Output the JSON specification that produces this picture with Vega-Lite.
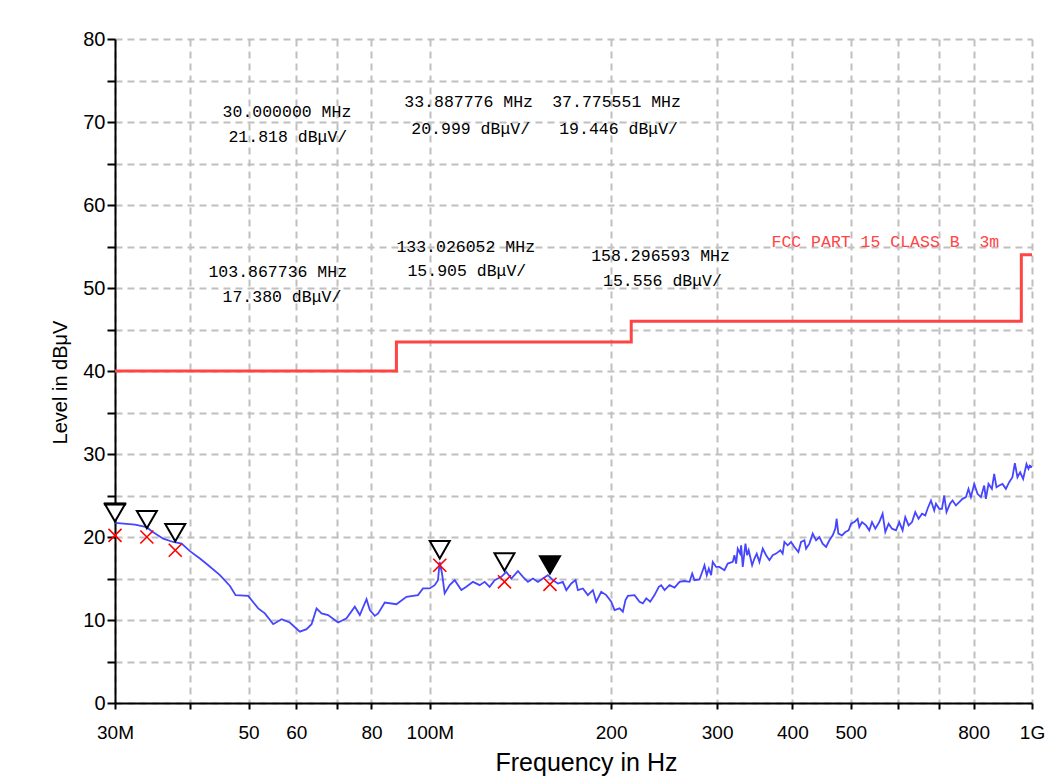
{
  "$schema": "https://vega.github.io/schema/vega-lite/v6.json",
  "width": 917,
  "height": 664,
  "autosize": {"type": "none"},
  "padding": {"left": 115, "top": 39, "right": 29, "bottom": 79},
  "background": "white",
  "config": {"view": {"stroke": null}, "font": "Liberation Sans"},
  "datasets": {
    "limit": [
      {"f": 30, "v": 40},
      {"f": 88, "v": 43.5},
      {"f": 216, "v": 46},
      {"f": 960, "v": 54},
      {"f": 1000, "v": 54}
    ],
    "trace": [
      {"f": 30, "v": 21.7}, {"f": 32.38, "v": 21.5}, {"f": 33.86, "v": 21.2}, {"f": 34.52, "v": 20.7},
      {"f": 36.08, "v": 19.8}, {"f": 37.48, "v": 19.4}, {"f": 38.71, "v": 19.2}, {"f": 39.95, "v": 18.3},
      {"f": 41.51, "v": 17.4}, {"f": 42.85, "v": 16.6}, {"f": 44.81, "v": 15.4}, {"f": 46.56, "v": 14.1},
      {"f": 47.58, "v": 13.0}, {"f": 49.92, "v": 12.9}, {"f": 51.87, "v": 11.4}, {"f": 53.21, "v": 10.8},
      {"f": 54.93, "v": 9.5}, {"f": 56.73, "v": 10.1}, {"f": 58.53, "v": 9.7}, {"f": 60.83, "v": 8.6},
      {"f": 62.41, "v": 8.9}, {"f": 63.61, "v": 9.5}, {"f": 64.84, "v": 11.4}, {"f": 66.09, "v": 10.8},
      {"f": 67.77, "v": 10.6}, {"f": 70.41, "v": 9.7}, {"f": 72.71, "v": 10.2}, {"f": 75.06, "v": 11.6},
      {"f": 76.51, "v": 10.6}, {"f": 78.49, "v": 12.5}, {"f": 79.49, "v": 11.2}, {"f": 81.02, "v": 10.5},
      {"f": 82.06, "v": 10.8}, {"f": 84.16, "v": 12.1}, {"f": 88.01, "v": 11.9}, {"f": 91.44, "v": 12.8},
      {"f": 95.57, "v": 13.0}, {"f": 97.41, "v": 13.8}, {"f": 99.94, "v": 13.8}, {"f": 101.86, "v": 14.2},
      {"f": 103.16, "v": 14.8}, {"f": 103.83, "v": 17.0}, {"f": 104.77, "v": 15.6}, {"f": 105.83, "v": 13.2},
      {"f": 107.88, "v": 14.2}, {"f": 109.96, "v": 14.8}, {"f": 112.81, "v": 13.6}, {"f": 114.98, "v": 14.0},
      {"f": 117.93, "v": 14.6}, {"f": 120.98, "v": 14.2}, {"f": 123.31, "v": 14.6}, {"f": 125.69, "v": 14.0},
      {"f": 128.12, "v": 14.8}, {"f": 131.43, "v": 15.2}, {"f": 133.96, "v": 15.8}, {"f": 136.55, "v": 15.0},
      {"f": 140.05, "v": 15.9}, {"f": 142.76, "v": 15.2}, {"f": 145.51, "v": 14.6}, {"f": 148.32, "v": 15.0},
      {"f": 151.16, "v": 14.6}, {"f": 154.07, "v": 15.0}, {"f": 157.04, "v": 15.4}, {"f": 160.07, "v": 14.8},
      {"f": 163.16, "v": 14.4}, {"f": 166.31, "v": 14.6}, {"f": 168.51, "v": 13.6}, {"f": 171.76, "v": 14.4},
      {"f": 174.6, "v": 14.8}, {"f": 176.13, "v": 13.6}, {"f": 179.53, "v": 13.8}, {"f": 182.99, "v": 13.0},
      {"f": 186.53, "v": 13.6}, {"f": 188.95, "v": 12.2}, {"f": 192.59, "v": 13.4}, {"f": 196.31, "v": 13.0},
      {"f": 200.1, "v": 12.2}, {"f": 202.65, "v": 11.2}, {"f": 206.56, "v": 11.4}, {"f": 209.19, "v": 11.0},
      {"f": 211.3, "v": 12.4}, {"f": 213.23, "v": 12.9}, {"f": 218.75, "v": 13.0}, {"f": 222.97, "v": 12.2},
      {"f": 225.8, "v": 12.0}, {"f": 228.74, "v": 12.6}, {"f": 232.25, "v": 12.2}, {"f": 236.11, "v": 13.0},
      {"f": 240.02, "v": 14.0}, {"f": 242.24, "v": 14.2}, {"f": 245.33, "v": 13.6}, {"f": 250.07, "v": 14.2},
      {"f": 254.9, "v": 13.9}, {"f": 259.82, "v": 14.6}, {"f": 264.83, "v": 14.7}, {"f": 269.95, "v": 14.6},
      {"f": 272.7, "v": 15.6}, {"f": 275.1, "v": 14.8}, {"f": 280.41, "v": 14.9}, {"f": 283.98, "v": 16.0},
      {"f": 285.82, "v": 16.6}, {"f": 288.33, "v": 15.4}, {"f": 290.59, "v": 16.2}, {"f": 293.17, "v": 15.4},
      {"f": 295.01, "v": 17.0}, {"f": 298.83, "v": 16.4}, {"f": 302.64, "v": 16.4}, {"f": 308.48, "v": 16.0},
      {"f": 312.41, "v": 16.8}, {"f": 318.44, "v": 17.0}, {"f": 320.52, "v": 17.8}, {"f": 322.59, "v": 16.8},
      {"f": 324.6, "v": 18.6}, {"f": 327.6, "v": 18.0}, {"f": 328.81, "v": 19.0}, {"f": 330.86, "v": 16.4},
      {"f": 334.29, "v": 19.2}, {"f": 336.45, "v": 17.8}, {"f": 338.47, "v": 18.4}, {"f": 342.95, "v": 16.6},
      {"f": 345.97, "v": 17.4}, {"f": 349.0, "v": 18.0}, {"f": 352.64, "v": 17.0}, {"f": 357.13, "v": 18.6},
      {"f": 361.76, "v": 17.8}, {"f": 366.37, "v": 17.2}, {"f": 371.05, "v": 17.8}, {"f": 375.86, "v": 18.0},
      {"f": 382.05, "v": 18.4}, {"f": 385.41, "v": 18.0}, {"f": 387.99, "v": 19.4}, {"f": 392.85, "v": 19.0},
      {"f": 398.03, "v": 19.4}, {"f": 403.1, "v": 18.8}, {"f": 409.27, "v": 18.2}, {"f": 413.53, "v": 19.4},
      {"f": 418.8, "v": 19.6}, {"f": 421.51, "v": 18.6}, {"f": 426.88, "v": 19.2}, {"f": 432.32, "v": 20.4},
      {"f": 437.93, "v": 19.6}, {"f": 443.51, "v": 20.0}, {"f": 449.06, "v": 19.2}, {"f": 454.99, "v": 18.8},
      {"f": 460.79, "v": 19.6}, {"f": 466.66, "v": 20.2}, {"f": 471.41, "v": 21.0}, {"f": 473.81, "v": 22.2},
      {"f": 476.87, "v": 20.4}, {"f": 483.62, "v": 20.2}, {"f": 489.78, "v": 20.6}, {"f": 496.02, "v": 20.8},
      {"f": 500.62, "v": 21.6}, {"f": 506.88, "v": 21.8}, {"f": 513.34, "v": 22.2}, {"f": 516.66, "v": 21.2},
      {"f": 522.04, "v": 21.8}, {"f": 530.04, "v": 21.4}, {"f": 536.8, "v": 20.8}, {"f": 542.39, "v": 21.8},
      {"f": 549.3, "v": 21.0}, {"f": 557.72, "v": 21.8}, {"f": 564.83, "v": 22.8}, {"f": 570.71, "v": 20.6},
      {"f": 577.98, "v": 21.6}, {"f": 585.48, "v": 21.0}, {"f": 594.46, "v": 20.8}, {"f": 602.03, "v": 21.8},
      {"f": 609.71, "v": 20.8}, {"f": 615.92, "v": 22.4}, {"f": 623.77, "v": 21.4}, {"f": 632.01, "v": 21.8},
      {"f": 639.91, "v": 23.0}, {"f": 648.07, "v": 22.2}, {"f": 656.64, "v": 22.8}, {"f": 664.85, "v": 22.6},
      {"f": 670.7, "v": 23.4}, {"f": 679.55, "v": 24.4}, {"f": 688.05, "v": 23.2}, {"f": 692.66, "v": 24.0},
      {"f": 701.33, "v": 23.4}, {"f": 708.64, "v": 23.4}, {"f": 714.86, "v": 25.0}, {"f": 721.15, "v": 23.0},
      {"f": 730.67, "v": 24.0}, {"f": 737.95, "v": 24.4}, {"f": 747.52, "v": 23.8}, {"f": 757.04, "v": 24.2},
      {"f": 766.69, "v": 24.6}, {"f": 776.64, "v": 24.8}, {"f": 784.37, "v": 25.8}, {"f": 791.64, "v": 24.8},
      {"f": 801.72, "v": 26.4}, {"f": 811.94, "v": 25.2}, {"f": 822.47, "v": 24.8}, {"f": 832.95, "v": 26.2},
      {"f": 838.34, "v": 24.6}, {"f": 846.69, "v": 26.4}, {"f": 857.86, "v": 25.8}, {"f": 865.4, "v": 27.6},
      {"f": 873.01, "v": 26.0}, {"f": 882.11, "v": 26.2}, {"f": 893.35, "v": 26.4}, {"f": 904.94, "v": 25.8},
      {"f": 916.48, "v": 26.6}, {"f": 927.93, "v": 27.2}, {"f": 936.53, "v": 28.9}, {"f": 945.85, "v": 27.2},
      {"f": 955.71, "v": 27.8}, {"f": 966.77, "v": 27.0}, {"f": 979.1, "v": 28.8}, {"f": 986.56, "v": 28.2},
      {"f": 991.8, "v": 28.6}, {"f": 1000, "v": 28.4}
    ],
    "peaks": [
      {"f": 30.0, "v": 21.818, "kind": "open", "active": true},
      {"f": 33.887776, "v": 20.999, "kind": "open", "active": false},
      {"f": 37.775551, "v": 19.446, "kind": "open", "active": false},
      {"f": 103.867736, "v": 17.38, "kind": "open", "active": false},
      {"f": 133.026052, "v": 15.905, "kind": "open", "active": false},
      {"f": 158.296593, "v": 15.556, "kind": "filled", "active": false}
    ],
    "qp": [
      {"f": 30.0, "v": 20.2},
      {"f": 33.887776, "v": 20.0},
      {"f": 37.775551, "v": 18.4},
      {"f": 103.867736, "v": 16.6},
      {"f": 133.026052, "v": 14.6},
      {"f": 158.296593, "v": 14.3}
    ],
    "notes": [
      {"f": 57.9, "v": 71.2, "t": "30.000000 MHz"},
      {"f": 58.1, "v": 68.2, "t": "21.818 dBμV/"},
      {"f": 116.0, "v": 72.4, "t": "33.887776 MHz"},
      {"f": 116.9, "v": 69.2, "t": "20.999 dBμV/"},
      {"f": 204.2, "v": 72.4, "t": "37.775551 MHz"},
      {"f": 205.8, "v": 69.2, "t": "19.446 dBμV/"},
      {"f": 55.9, "v": 51.9, "t": "103.867736 MHz"},
      {"f": 56.8, "v": 48.9, "t": "17.380 dBμV/"},
      {"f": 114.7, "v": 54.9, "t": "133.026052 MHz"},
      {"f": 115.2, "v": 52.0, "t": "15.905 dBμV/"},
      {"f": 241.6, "v": 53.9, "t": "158.296593 MHz"},
      {"f": 243.4, "v": 50.9, "t": "15.556 dBμV/"}
    ],
    "limitlabel": [
      {"f": 369.3, "v": 55.5, "t": "FCC PART 15 CLASS B \u00a03m"}
    ]
  },
  "encoding": {
    "x": {
      "field": "f",
      "type": "quantitative",
      "scale": {"type": "log", "domain": [30, 1000], "nice": false, "zero": false},
      "axis": {
        "title": "Frequency in Hz",
        "values": [30, 40, 50, 60, 70, 80, 100, 200, 300, 400, 500, 600, 700, 800, 1000],
        "labelExpr": "datum.value == 30 ? '30M' : datum.value == 100 ? '100M' : datum.value == 1000 ? '1G' : (datum.value == 40 || datum.value == 70 || datum.value == 600 || datum.value == 700) ? '' : '' + datum.value",
        "labelFont": "Liberation Sans",
        "labelFontSize": 19,
        "labelColor": "black",
        "labelPadding": 14,
        "labelOverlap": false,
        "labelFlush": false,
        "labelBound": false,
        "domainColor": "black",
        "domainWidth": 2,
        "tickColor": "black",
        "tickWidth": 2,
        "tickSize": 6,
        "grid": true,
        "gridColor": "#c0c0c0",
        "gridDash": [7, 5],
        "gridWidth": 2,
        "titleFont": "Liberation Sans",
        "titleFontSize": 25,
        "titleFontWeight": "normal",
        "titleColor": "black",
        "titlePadding": 8,
        "titleX": 471
      }
    },
    "y": {
      "field": "v",
      "type": "quantitative",
      "scale": {"domain": [0, 80], "nice": false},
      "axis": {
        "title": "Level in dBμV",
        "values": [0, 5, 10, 15, 20, 25, 30, 35, 40, 45, 50, 55, 60, 65, 70, 75, 80],
        "labelExpr": "datum.value % 10 == 0 ? '' + datum.value : ''",
        "labelFont": "Liberation Sans",
        "labelFontSize": 20,
        "labelColor": "black",
        "labelPadding": 2,
        "labelOverlap": false,
        "labelFlush": false,
        "labelBound": false,
        "domainColor": "black",
        "domainWidth": 2,
        "tickColor": "black",
        "tickWidth": 2,
        "tickSize": 8,
        "grid": true,
        "gridColor": "#c0c0c0",
        "gridDash": [7, 5],
        "gridWidth": 2,
        "titleFont": "Liberation Sans",
        "titleFontSize": 20,
        "titleFontWeight": "normal",
        "titleColor": "black",
        "titlePadding": 12,
        "titleY": 343
      }
    }
  },
  "layer": [
    {
      "data": {"name": "limit"},
      "mark": {"type": "line", "interpolate": "step-after", "color": "#ff4444", "strokeWidth": 3}
    },
    {
      "data": {"name": "trace"},
      "mark": {"type": "line", "color": "#4646ff", "strokeWidth": 1.8}
    },
    {
      "data": {"name": "qp"},
      "mark": {"type": "point", "shape": "M-1,-1L1,1M-1,1L1,-1", "size": 170, "filled": false, "stroke": "#ff0000", "strokeWidth": 1.6, "opacity": 1}
    },
    {
      "data": {"name": "peaks"},
      "mark": {"type": "point", "shape": "triangle-down", "size": 400, "filled": true, "stroke": "black", "strokeWidth": 2, "yOffset": -9, "opacity": 1},
      "encoding": {
        "fill": {"field": "kind", "type": "nominal", "scale": {"domain": ["open", "filled"], "range": ["white", "black"]}, "legend": null}
      }
    },
    {
      "data": {"name": "peaks"},
      "transform": [{"filter": "datum.active"}],
      "mark": {"type": "point", "shape": "M-1,0L1,0", "size": 500, "filled": false, "stroke": "black", "strokeWidth": 3, "yOffset": -18, "opacity": 1}
    },
    {
      "data": {"name": "notes"},
      "mark": {"type": "text", "font": "Liberation Mono", "fontSize": 16.5, "color": "black", "align": "center", "baseline": "middle"},
      "encoding": {"text": {"field": "t"}}
    },
    {
      "data": {"name": "limitlabel"},
      "mark": {"type": "text", "font": "Liberation Mono", "fontSize": 16.5, "color": "#ff4444", "align": "left", "baseline": "middle"},
      "encoding": {"text": {"field": "t"}}
    }
  ]
}
